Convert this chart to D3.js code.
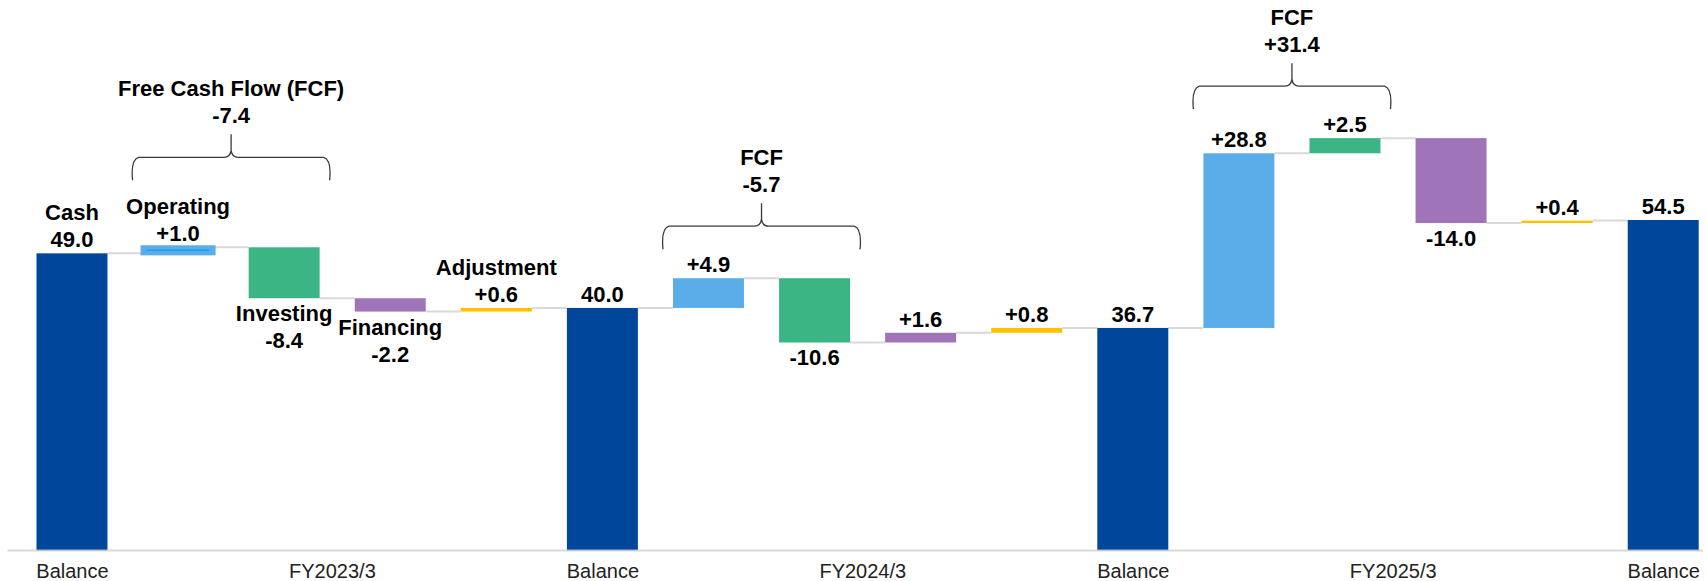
<!DOCTYPE html>
<html lang="en">
<head>
    <meta charset="UTF-8">
    <title>Cash flow waterfall</title>
    <script src="https://d3js.org/d3.v7.min.js"></script>
    <style>
        body{
            margin: 0;
            background: #ffffff;
        }
        .value_label{
            font-family: "Liberation Sans", Arial, sans-serif;
            font-size: 22px;
            font-weight: bold;
            fill: #000000;
        }
        .axis text{
            font-family: "Liberation Sans", Arial, sans-serif;
            font-size: 20px;
            fill: #222222;
        }
        .connector{
            stroke: #d9d9d9;
            stroke-width: 2px;
        }
        .brace{
            fill: none;
            stroke: #3a3a3a;
            stroke-width: 1.3px;
        }
    </style>
</head>
<body>
<svg id="canvas" width="1707" height="581"></svg>
<script>
    // one entry per bar, left to right
    let kinds = ["balance","operating","investing","financing","adjustment",
                 "balance","operating","investing","financing","adjustment",
                 "balance","operating","investing","financing","adjustment",
                 "balance"]
    let values = [49.0, 1.0, -8.4, -2.2, 0.6,
                  40.0, 4.9, -10.6, 1.6, 0.8,
                  36.7, 28.8, 2.5, -14.0, 0.4,
                  54.5]
    let barNames = ["Cash","Operating","Investing","Financing","Adjustment",
                    "","","","","","","","","","",""]
    let axisLabels = ["Balance","FY2023/3","Balance","FY2024/3","Balance","FY2025/3","Balance"]
    let fcfTitles = ["Free Cash Flow (FCF)","FCF","FCF"]
    let fcfValues = [-7.4, -5.7, 31.4]

    let colors = {
        balance: "#00479b",
        operating: "#5aade8",
        investing: "#3bb583",
        financing: "#a074b8",
        adjustment: "#ffc000"
    }

    let width = 1707
    let height = 581
    let baseY = 550.5
    let svg = d3.select('#canvas')

    let xScale = d3.scaleBand()
        .domain(d3.range(values.length))
        .range([36.5, 1698.7])
        .paddingInner(0.331)
        .paddingOuter(0)
    let bw = xScale.bandwidth()
    let yScale = d3.scaleLinear().domain([0, 54.5]).range([baseY, 220])

    // running totals
    let run = 0
    let bars = values.map(function (v, i) {
        let b
        if (kinds[i] === "balance") {
            b = {i: i, kind: kinds[i], v: v, start: 0, end: v, level: v}
            run = v
        } else {
            b = {i: i, kind: kinds[i], v: v, start: run, end: run + v, level: run + v}
            run = run + v
        }
        b.top = Math.max(b.start, b.end)
        b.bottom = Math.min(b.start, b.end)
        b.name = barNames[i]
        return b
    })

    // connectors
    svg.append('g').selectAll('line')
        .data(bars.slice(0, bars.length - 1))
        .enter()
        .append('line')
        .attr("class", "connector")
        .attr("x1", d => xScale(d.i) + bw)
        .attr("x2", d => xScale(d.i + 1))
        .attr("y1", d => yScale(d.level))
        .attr("y2", d => yScale(d.level))

    // bars
    let barG = svg.append('g')
    barG.selectAll('rect')
        .data(bars)
        .enter()
        .append('rect')
        .attr("x", d => xScale(d.i))
        .attr("width", bw)
        .attr("y", d => yScale(d.top))
        .attr("height", d => yScale(d.bottom) - yScale(d.top))
        .style("fill", d => colors[d.kind])
        .style("stroke", d => (d.kind === "operating" && Math.abs(d.v) < 2) ? colors.operating : "none")
        .style("stroke-width", 4)
    // thin operating bar has a brighter core line
    barG.selectAll('line.core')
        .data(bars.filter(d => d.kind === "operating" && Math.abs(d.v) < 2))
        .enter()
        .append('line')
        .attr("class", "core")
        .attr("x1", d => xScale(d.i) + 4)
        .attr("x2", d => xScale(d.i) + bw - 4)
        .attr("y1", d => yScale((d.start + d.end) / 2))
        .attr("y2", d => yScale((d.start + d.end) / 2))
        .style("stroke", "#12a2ee")
        .style("stroke-width", 1.5)

    // axis line
    svg.append('line')
        .attr("x1", 7.5).attr("x2", 1703)
        .attr("y1", baseY).attr("y2", baseY)
        .style("stroke", "#d0d0d0")
        .style("stroke-opacity", 0.8)
        .style("stroke-width", 2)

    // axis labels: balances on their bars, years in the middle of each group
    let tickPos = axisLabels.map(function (lab, k) {
        return k % 2 === 0 ? (k / 2) * 5 : Math.floor(k / 2) * 5 + 2.45
    })
    let xIndex = d3.scaleLinear()
        .domain([0, values.length - 1])
        .range([xScale(0) + bw / 2, xScale(values.length - 1) + bw / 2])
    let axis = d3.axisBottom(xIndex)
        .tickValues(tickPos)
        .tickSize(0)
        .tickPadding(13.5)
        .tickFormat((d, k) => axisLabels[k])
    svg.append('g')
        .attr("class", "axis")
        .attr("transform", `translate(0,${baseY})`)
        .call(axis)
        .call(g => g.select('.domain').remove())

    // value labels
    let fmtBal = d3.format(".1f")
    let fmtDelta = d3.format("+.1f")
    let labelG = svg.append('g')
    bars.forEach(function (d) {
        let cx = xScale(d.i) + bw / 2
        let txt = d.kind === "balance" ? fmtBal(d.v) : fmtDelta(d.v).replace("−", "-")
        if (d.kind === "balance" || d.v >= 0) {
            let yv = yScale(d.top) - 6
            labelG.append('text').attr("class", "value_label")
                .attr("x", cx).attr("y", yv).attr("text-anchor", "middle").text(txt)
            if (d.name) {
                labelG.append('text').attr("class", "value_label")
                    .attr("x", cx).attr("y", yv - 27).attr("text-anchor", "middle").text(d.name)
            }
        } else {
            let yb = yScale(d.bottom) + 23
            if (d.name) {
                labelG.append('text').attr("class", "value_label")
                    .attr("x", cx).attr("y", yb).attr("text-anchor", "middle").text(d.name)
                yb = yb + 27
            }
            labelG.append('text').attr("class", "value_label")
                .attr("x", cx).attr("y", yb).attr("text-anchor", "middle").text(txt)
        }
    })

    // FCF braces over operating + investing
    let braceG = svg.append('g')
    fcfTitles.forEach(function (title, g) {
        let op = bars[g * 5 + 1]
        let inv = bars[g * 5 + 2]
        let x0 = xScale(op.i) - 10
        let x1 = xScale(inv.i) + bw + 10
        let xc = (x0 + x1) / 2
        let topY = Math.min(yScale(op.top), yScale(inv.top))
        let named = (op.name && op.v >= 0) || (inv.name && inv.v >= 0)
        let yb = topY - 6 - 16 - (named ? 45 : 7)
        let yh = yb - 23
        let tip = yh - 23
        let path = `M${x0},${yb} C${x0 - 1},${yb - 10} ${x0 - 1},${yh + 2} ${x0 + 6},${yh}` +
            ` L${xc - 7},${yh} Q${xc - 1},${yh} ${xc},${yh - 7} L${xc},${tip}` +
            ` M${xc},${yh - 7} Q${xc + 1},${yh} ${xc + 7},${yh} L${x1 - 6},${yh}` +
            ` C${x1 + 1},${yh + 2} ${x1 + 1},${yb - 10} ${x1},${yb}`
        braceG.append('path').attr("class", "brace").attr("d", path)
        let yv = tip - 11.5
        braceG.append('text').attr("class", "value_label")
            .attr("x", xc).attr("y", yv).attr("text-anchor", "middle")
            .text(fmtDelta(fcfValues[g]).replace("−", "-"))
        braceG.append('text').attr("class", "value_label")
            .attr("x", xc).attr("y", yv - 27).attr("text-anchor", "middle")
            .text(title)
    })
</script>
</body>
</html>
